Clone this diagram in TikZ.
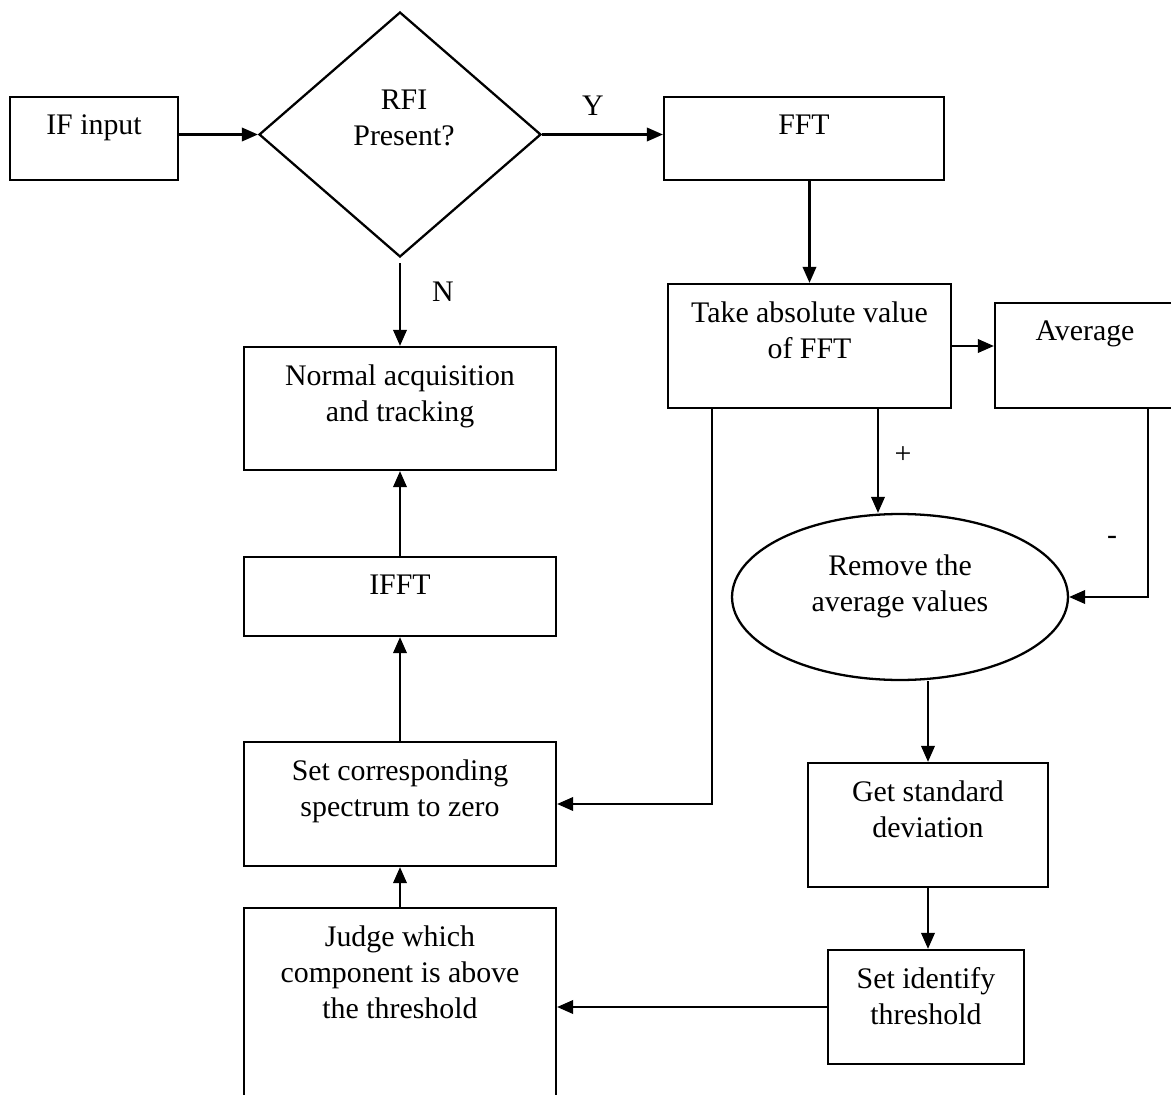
\documentclass[tikz,border=0pt]{standalone}
\usepackage{fontspec}
\setmainfont{Liberation Serif}
\usetikzlibrary{shapes,arrows.meta,calc}

\tikzset{
  box/.style={draw, line width=1.3pt, inner sep=0pt},
  txt/.style={align=center, font=\fontsize{17}{20.5}\selectfont},
  boxtxt/.style={txt, anchor=north, yshift=-0.25cm},
  arr/.style={line width=1.2pt, -{Triangle[length=0.32cm,width=0.27cm]}}
}

\begin{document}
\begin{tikzpicture}[x=0.02cm, y=-0.02cm]
\useasboundingbox (0,0) rectangle (1171,1095);

\node [box, minimum width=3.36cm, minimum height=1.66cm, label={[boxtxt]north:IF input}] (ifin) at (94,138.5) {};
\node [box, diamond, minimum width=5.64cm, minimum height=4.9cm, label={[txt,anchor=center,yshift=0.34cm,xshift=0.08cm]center:RFI\\Present?}] (dia) at (400,134.5) {};
\node [box, minimum width=5.6cm, minimum height=1.66cm, label={[boxtxt]north:FFT}] (fft) at (804,138.5) {};
\node [box, minimum width=5.66cm, minimum height=2.48cm, label={[boxtxt]north:Take absolute value\\of FFT}] (tab) at (809.5,346) {};
\node [box, minimum width=3.6cm, minimum height=2.1cm, label={[boxtxt]north:Average}] (avg) at (1085,355.5) {};
\node [box, minimum width=6.24cm, minimum height=2.46cm, label={[boxtxt]north:Normal acquisition\\and tracking}] (norm) at (400,408.5) {};
\node [box, minimum width=6.24cm, minimum height=1.58cm, label={[boxtxt]north:IFFT}] (ifft) at (400,596.5) {};
\node [box, minimum width=6.24cm, minimum height=2.48cm, label={[boxtxt]north:Set corresponding\\spectrum to zero}] (sc) at (400,804) {};
\node [box, minimum width=6.24cm, minimum height=3.92cm, label={[boxtxt]north:Judge which\\component is above\\the threshold}] (judge) at (400,1006) {};
\node [box, ellipse, minimum width=6.72cm, minimum height=3.32cm, label={[txt,anchor=center,yshift=0.22cm]center:Remove the\\average values}] (rem) at (900,597) {};
\node [box, minimum width=4.8cm, minimum height=2.48cm, label={[boxtxt]north:Get standard\\deviation}] (gsd) at (928,825) {};
\node [box, minimum width=3.92cm, minimum height=2.28cm, label={[boxtxt]north:Set identify\\threshold}] (sid) at (926,1007) {};

\coordinate (tl) at ($(tab.south)+(-97.5,0)$);
\coordinate (tr) at ($(tab.south)+(68.5,0)$);
\coordinate (ar) at ($(avg.south)+(63,0)$);

\draw[arr] (ifin.east |- dia.west) -- (dia.west);
\draw[arr] (dia.east) -- node[txt, pos=0.42, yshift=0.58cm]{Y} (dia.east -| fft.west);
\draw[arr] (tab.north |- fft.south) -- (tab.north);
\draw[arr] (tab.east) -- (tab.east -| avg.west);
\draw[arr] ($(dia.south)+(0,5)$) -- node[txt, pos=0.34, xshift=0.86cm]{N} (dia.south |- norm.north);
\draw[arr] (ifft.north) -- (norm.south);
\draw[arr] (sc.north) -- (ifft.south);
\draw[arr] (judge.north) -- (sc.south);
\draw[arr] (tl) |- (sc.east);
\draw[arr] (tr) -- node[txt, pos=0.44, xshift=0.5cm]{+} (tr |- rem.north);
\draw[arr] (ar) |- node[txt, pos=0.35, xshift=-0.72cm]{-} (rem.east);
\draw[arr] (gsd.north |- rem.south) -- (gsd.north);
\draw[arr] (gsd.south) -- (gsd.south |- sid.north);
\draw[arr] (sid.west) -- (sid.west -| judge.east);
\end{tikzpicture}
\end{document}
